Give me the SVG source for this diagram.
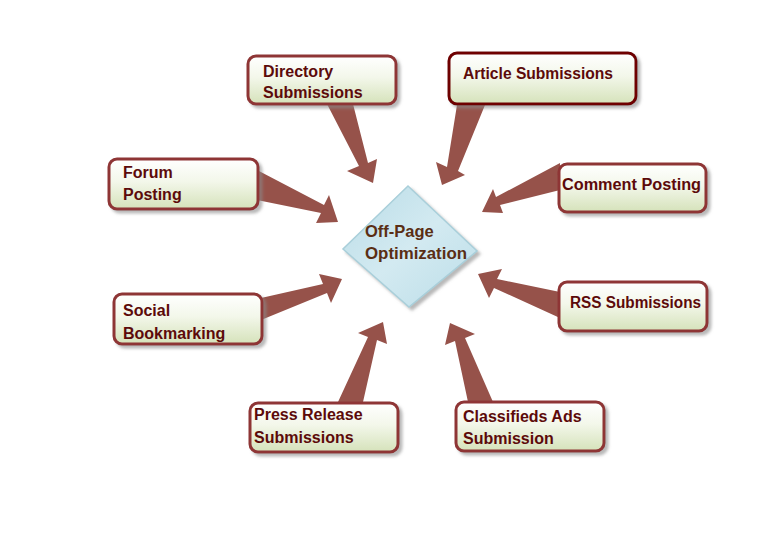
<svg xmlns="http://www.w3.org/2000/svg" width="760" height="560" viewBox="0 0 760 560">
<defs>
<linearGradient id="boxg" x1="0" y1="0" x2="0" y2="1">
<stop offset="0" stop-color="#FFFFFF"/>
<stop offset="0.45" stop-color="#F3F7EA"/>
<stop offset="1" stop-color="#D5E2BA"/>
</linearGradient>
<linearGradient id="diag" x1="0" y1="0" x2="1" y2="1">
<stop offset="0" stop-color="#B9DCE7"/>
<stop offset="0.5" stop-color="#D3EAF1"/>
<stop offset="1" stop-color="#BBDDE8"/>
</linearGradient>
<filter id="sh" x="-10%" y="-10%" width="130%" height="140%">
<feDropShadow dx="3" dy="3" stdDeviation="1.5" flood-color="#8a8a8a" flood-opacity="0.6"/>
</filter>
</defs>
<style>
.box{fill:url(#boxg);stroke:#8E3535;stroke-width:3;filter:url(#sh)}
.dark{stroke:#6E0505}
.t{font-family:"Liberation Sans",Arial,sans-serif;font-weight:bold;font-size:16px;fill:#5C0A0A}
.ct{font-family:"Liberation Sans",Arial,sans-serif;font-weight:bold;font-size:16.5px;fill:#5A2E14}
.arr{fill:#96524A}
</style>
<rect width="760" height="560" fill="#FFFFFF"/>
<g id="connectors">
<polygon class="arr" points="327,104 353,104 368,163 377,159 373,183 347,171 359,166"/>
<polygon class="arr" points="457,105 485,105 458,171 465,175 442,185 436,162 447,167"/>
<polygon class="arr" points="257,170 324,205 329,195 338,222 316,223 321,213 257,200"/>
<polygon class="arr" points="560,163 496,197 493,189 482,212 503,213 500,205 560,190"/>
<polygon class="arr" points="261,298 323,284 319,274 342,279 331,303 327,293 261,320"/>
<polygon class="arr" points="560,292 497,279 502,269 478,274 489,298 494,288 560,318"/>
<polygon class="arr" points="338,402 368,337 358,333 383,322 387,344 377,340 363,402"/>
<polygon class="arr" points="468,402 455,341 445,345 450,323 475,334 465,338 493,402"/>
</g>
<g id="center">
<polygon points="408,186 477,251 409,307 343,249" fill="url(#diag)" stroke="#A9CFDA" stroke-width="1.5" filter="url(#sh)"/>
<text class="ct" x="365" y="237">Off-Page</text>
<text class="ct" x="365" y="259" textLength="102" lengthAdjust="spacingAndGlyphs">Optimization</text>
</g>
<g id="directory">
<rect class="box" x="248" y="56" width="148" height="48" rx="8"/>
<text class="t" x="263" y="77">Directory</text>
<text class="t" x="263" y="98">Submissions</text>
</g>
<g id="article">
<rect class="box dark" x="449" y="53" width="187" height="51" rx="8"/>
<text class="t" x="463" y="79" textLength="150" lengthAdjust="spacingAndGlyphs">Article Submissions</text>
</g>
<g id="forum">
<rect class="box" x="109" y="159" width="149" height="50" rx="8"/>
<text class="t" x="123" y="178">Forum</text>
<text class="t" x="123" y="200">Posting</text>
</g>
<g id="comment">
<rect class="box" x="559" y="164" width="147" height="48" rx="8"/>
<text class="t" x="562" y="190" textLength="139" lengthAdjust="spacingAndGlyphs">Comment Posting</text>
</g>
<g id="social">
<rect class="box" x="114" y="294" width="148" height="50" rx="8"/>
<text class="t" x="123" y="316">Social</text>
<text class="t" x="123" y="339">Bookmarking</text>
</g>
<g id="rss">
<rect class="box" x="559" y="282" width="148" height="49" rx="8"/>
<text class="t" x="570" y="308" textLength="131" lengthAdjust="spacingAndGlyphs">RSS Submissions</text>
</g>
<g id="press">
<rect class="box" x="250" y="403" width="148" height="49" rx="8"/>
<text class="t" x="254" y="420">Press Release</text>
<text class="t" x="254" y="443">Submissions</text>
</g>
<g id="classifieds">
<rect class="box" x="456" y="402" width="148" height="49" rx="8"/>
<text class="t" x="463" y="422">Classifieds Ads</text>
<text class="t" x="463" y="444">Submission</text>
</g>
</svg>
